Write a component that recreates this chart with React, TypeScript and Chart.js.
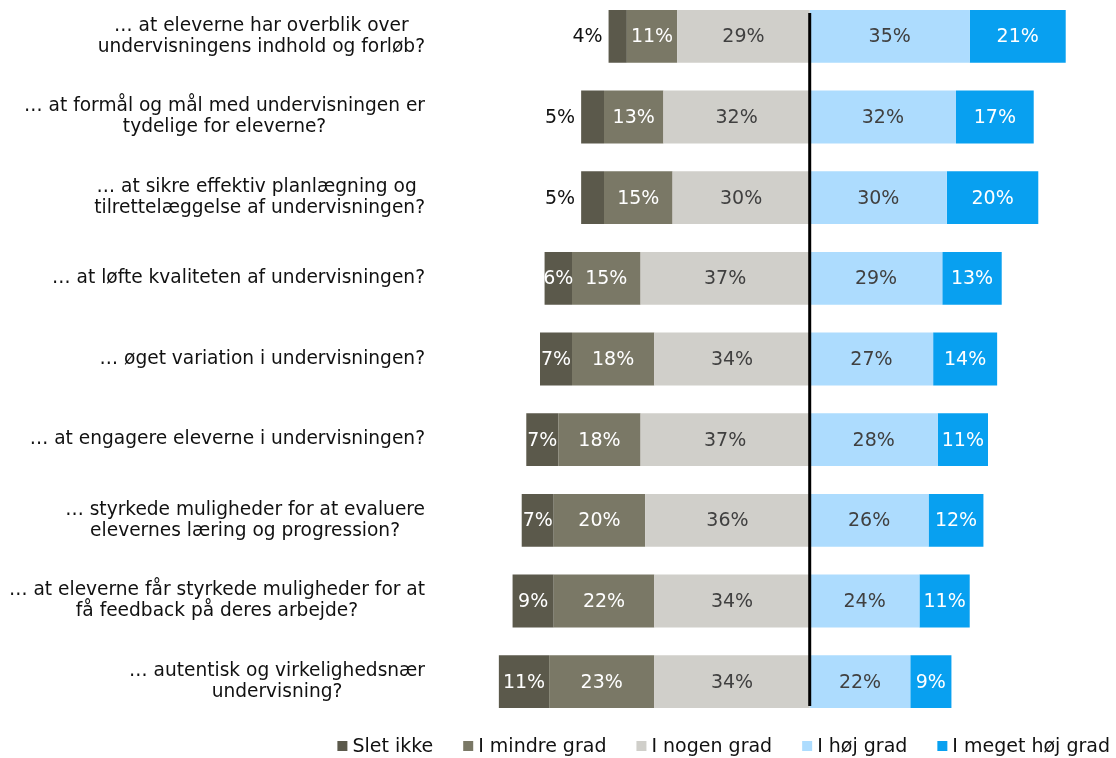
import React, { useEffect, useRef } from "react";
import { Chart, registerables } from "chart.js";

Chart.register(...registerables);

const categories: string[][] = [
  ["… at eleverne har overblik over", "undervisningens indhold og forløb?"],
  ["… at formål og mål med undervisningen er", "tydelige for eleverne?"],
  ["… at sikre effektiv planlægning og ", "tilrettelæggelse af undervisningen?"],
  ["… at løfte kvaliteten af undervisningen?"],
  ["… øget variation i undervisningen?"],
  ["… at engagere eleverne i undervisningen?"],
  ["… styrkede muligheder for at evaluere", "elevernes læring og progression?"],
  ["… at eleverne får styrkede muligheder for at", "få feedback på deres arbejde?"],
  ["… autentisk og virkelighedsnær", "undervisning?"],
];

const sletIkke = [4, 5, 5, 6, 7, 7, 7, 9, 11];
const mindreGrad = [11, 13, 15, 15, 18, 18, 20, 22, 23];
const nogenGrad = [29, 32, 30, 37, 34, 37, 36, 34, 34];
const hoejGrad = [35, 32, 30, 29, 27, 28, 26, 24, 22];
const megetHoejGrad = [21, 17, 20, 13, 14, 11, 12, 11, 9];

const seriesNames = ["Slet ikke", "I mindre grad", "I nogen grad", "I høj grad", "I meget høj grad"];
const seriesColors = ["#5b594b", "#7a7866", "#d0cfca", "#addcfe", "#08a0f0"];
const labelColors = ["#ffffff", "#ffffff", "#404040", "#404040", "#ffffff"];

const FAMILY = '"DejaVu Sans", Verdana, sans-serif';
const BAR_FONT = "19px " + FAMILY;
const AXIS_FONT = "18.6px " + FAMILY;
const LEGEND_FONT = "19px " + FAMILY;
const TEXT = "#111111";

export default function App() {
  const ref = useRef<HTMLCanvasElement | null>(null);

  useEffect(() => {
    if (!ref.current) return;
    // stacking order: closest to zero first
    const datasets = [
      { key: 2, values: nogenGrad, sign: -1 },
      { key: 1, values: mindreGrad, sign: -1 },
      { key: 0, values: sletIkke, sign: -1 },
      { key: 3, values: hoejGrad, sign: 1 },
      { key: 4, values: megetHoejGrad, sign: 1 },
    ].map((d) => ({
      label: seriesNames[d.key],
      data: d.values.map((v) => v * d.sign),
      backgroundColor: seriesColors[d.key],
      borderWidth: 0,
      categoryPercentage: 1,
      barPercentage: 0.655,
      seriesKey: d.key,
    }));

    const segLabels = {
      id: "segLabels",
      afterDatasetsDraw(chart: any) {
        const ctx = chart.ctx;
        ctx.save();
        ctx.font = BAR_FONT;
        ctx.textBaseline = "middle";
        chart.data.datasets.forEach((ds: any, di: number) => {
          const meta = chart.getDatasetMeta(di);
          meta.data.forEach((bar: any, i: number) => {
            const p = bar.getProps(["x", "y", "base"], true);
            const v = Math.abs(ds.data[i]);
            const left = Math.min(p.x, p.base);
            const right = Math.max(p.x, p.base);
            const txt = v + "%";
            if (ds.seriesKey === 0 && v < 6) {
              ctx.textAlign = "right";
              ctx.fillStyle = TEXT;
              ctx.fillText(txt, left - 6, p.y + 1);
            } else {
              ctx.textAlign = "center";
              ctx.fillStyle = labelColors[ds.seriesKey];
              ctx.fillText(txt, (left + right) / 2, p.y + 1);
            }
          });
        });
        // zero line
        const xs = chart.scales.x;
        const first = chart.getDatasetMeta(0).data[0];
        const last = chart.getDatasetMeta(0).data[categories.length - 1];
        const x0 = xs.getPixelForValue(0);
        ctx.strokeStyle = "#000000";
        ctx.lineWidth = 3;
        ctx.beginPath();
        ctx.moveTo(x0, first.y - first.height / 2 + 3);
        ctx.lineTo(x0, last.y + last.height / 2 - 2);
        ctx.stroke();
        ctx.restore();
      },
    };

    const yLabels = {
      id: "yLabels",
      afterDraw(chart: any) {
        const ctx = chart.ctx;
        const ys = chart.scales.y;
        const rightEdge = chart.chartArea.left - 19;
        ctx.save();
        ctx.font = AXIS_FONT;
        ctx.fillStyle = TEXT;
        ctx.textAlign = "center";
        ctx.textBaseline = "middle";
        categories.forEach((lines, i) => {
          const cy = ys.getPixelForValue(i);
          const lh = 21;
          const maxW = Math.max(...lines.map((l) => ctx.measureText(l).width));
          const cx = rightEdge - maxW / 2;
          const start = cy - ((lines.length - 1) * lh) / 2;
          lines.forEach((l, k) => ctx.fillText(l, cx, start + k * lh));
        });
        ctx.restore();
      },
    };

    const legendPlugin = {
      id: "customLegend",
      afterDraw(chart: any) {
        const ctx = chart.ctx;
        ctx.save();
        ctx.font = LEGEND_FONT;
        ctx.textBaseline = "middle";
        ctx.textAlign = "left";
        const order = [0, 1, 2, 3, 4];
        const box = 10;
        const gap = 5;
        const spacing = 30;
        const widths = order.map((k) => box + gap + ctx.measureText(seriesNames[k]).width);
        const total = widths.reduce((a, b) => a + b, 0) + spacing * (order.length - 1);
        let x = 1110 - total;
        const cy = 750;
        order.forEach((k, idx) => {
          ctx.fillStyle = seriesColors[k];
          ctx.fillRect(x, cy - box / 2, box, box);
          ctx.fillStyle = TEXT;
          ctx.fillText(seriesNames[k], x + box + gap, cy + 1);
          x += widths[idx] + spacing;
        });
        ctx.restore();
      },
    };

    const chart = new Chart(ref.current, {
      type: "bar",
      data: { labels: categories.map((c) => c.join(" ")), datasets: datasets as any },
      options: {
        indexAxis: "y",
        animation: false,
        responsive: false,
        maintainAspectRatio: false,
        layout: { padding: { left: 0, right: 32, top: 0, bottom: 36 } },
        plugins: {
          legend: { display: false },
          tooltip: { enabled: false },
          title: { display: false },
        },
        scales: {
          x: {
            type: "linear",
            stacked: true,
            min: -80,
            max: 60,
            display: false,
          },
          y: {
            type: "category",
            stacked: true,
            grid: { display: false },
            border: { display: false },
            ticks: { display: false },
            afterFit: (s: any) => {
              s.width = 444;
            },
          },
        },
      },
      plugins: [segLabels, yLabels, legendPlugin],
    });
    return () => chart.destroy();
  }, []);

  return (
    <div style={{ position: "absolute", left: 0, top: -4, width: 1116, height: 762 }}>
      <canvas ref={ref} width={1116} height={762} style={{ display: "block" }} />
    </div>
  );
}
